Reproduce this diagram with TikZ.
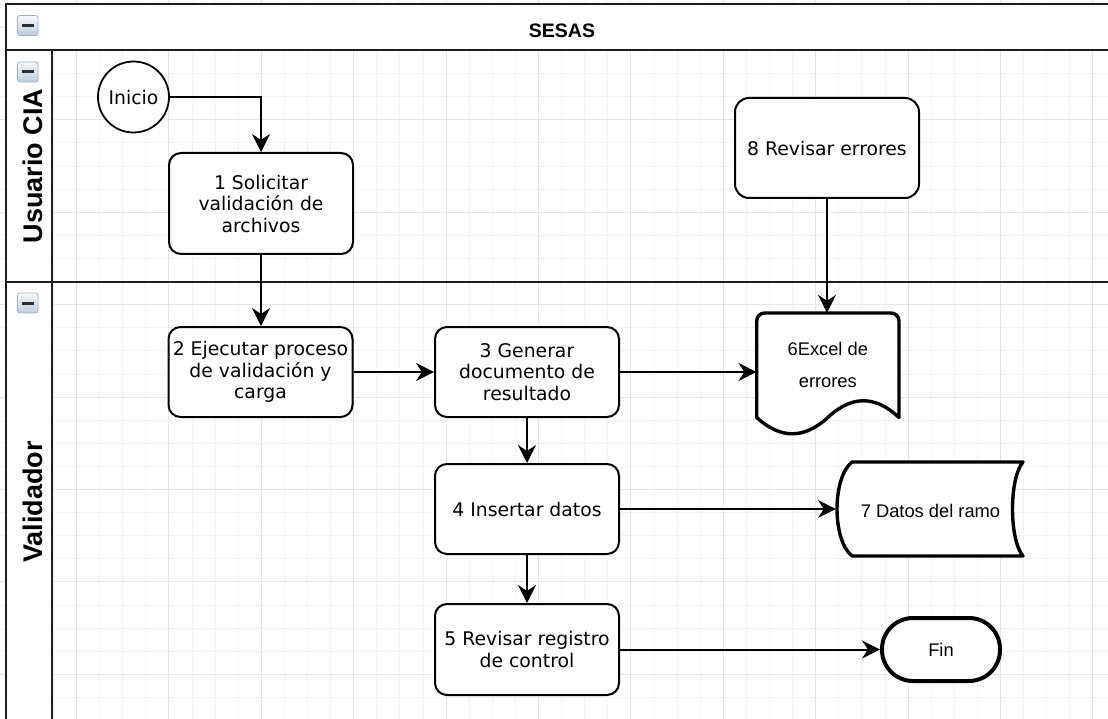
\documentclass[tikz,border=0pt]{standalone}
\usepackage{fontspec}
\setmainfont{DejaVu Sans}
\newfontfamily\helv{Liberation Sans}
\usetikzlibrary{arrows.meta}

\definecolor{gridminor}{HTML}{F2F2F2}
\definecolor{gridmajor}{HTML}{E5E5E5}
\definecolor{poolline}{HTML}{1E1E1E}
\definecolor{iconedge}{HTML}{9DB0C4}
\definecolor{icontop}{HTML}{F6F9FC}
\definecolor{iconbot}{HTML}{BCCCDD}
\definecolor{iconbar}{HTML}{2E2E2E}

\tikzset{
  proc/.style={draw, line width=2pt, rounded corners=12pt, fill=white,
    minimum width=184pt, minimum height=90pt, align=center, inner sep=2pt,
    font=\fontsize{18.8}{21.5}\selectfont},
  flow/.style={line width=2pt, -{Stealth[length=18pt,width=18pt,inset=6pt]}},
  lanelabel/.style={rotate=90, font=\helv\bfseries\fontsize{27}{30}\selectfont},
  poolstroke/.style={poolline, line width=2.5pt},
  storeline/.style={line width=3.4pt, line join=round, fill=white},
  helvtext/.style={font=\helv\fontsize{18.3}{21.5}\selectfont},
}

\begin{document}
\begin{tikzpicture}[x=1pt,y=-1pt]
\useasboundingbox (0,0) rectangle (1108,719);
\clip (0,0) rectangle (1108,719);
\fill[white] (0,0) rectangle (1108,719);

% background grid
\foreach \i in {0,...,47}
  \draw[gridminor, line width=1pt] ({7.2+23.1*\i},0) -- ({7.2+23.1*\i},719);
\foreach \j in {0,...,31}
  \draw[gridminor, line width=1pt] (0,{4.4+23.1*\j}) -- (1108,{4.4+23.1*\j});
\foreach \i in {0,...,11}
  \draw[gridmajor, line width=1pt] ({76.5+92.4*\i},0) -- ({76.5+92.4*\i},719);
\foreach \j in {0,...,7}
  \draw[gridmajor, line width=1pt] (0,{27.5+92.4*\j}) -- (1108,{27.5+92.4*\j});

% pool header and lane label columns
\fill[white] (6,4) rectangle (1108,50);
\fill[white] (6,50) rectangle (52,719);
\draw[poolstroke] (6,4) -- (1108,4);
\draw[poolstroke] (6,50) -- (1108,50);
\draw[poolstroke] (6,282) -- (1108,282);
\draw[poolstroke] (6,2.75) -- (6,719);
\draw[poolstroke] (52,50) -- (52,719);

% collapse buttons
\foreach \cy in {25.5,72,303} {
  \draw[iconedge, line width=0.8pt, rounded corners=2.5pt, top color=icontop, bottom color=iconbot]
    (17.5,\cy-10) rectangle (38,\cy+10);
  \draw[iconbar, line width=3pt] (21.7,\cy) -- (34.3,\cy);
}

% titles
\node[font=\helv\bfseries\fontsize{19.5}{22}\selectfont] (pool) at (562,31) {SESAS};
\node[lanelabel] (lane1) at (32.5,166) {Usuario CIA};
\node[lanelabel] (lane2) at (32.5,502) {Validador};

% process steps
\node[circle, draw, line width=1.8pt, fill=white, minimum size=71pt, inner sep=0pt,
  font=\fontsize{18.8}{21.5}\selectfont] (inicio) at (133.5,97) {Inicio};
\node[proc, minimum height=101pt] (b1) at (261,203.5) {1 Solicitar\\validación de\\archivos};
\node[proc] (b2) at (260.5,372) {2 Ejecutar proceso\\de validación y\\carga};
\node[proc] (b3) at (527,372) {3 Generar\\documento de\\resultado};
\node[proc] (b4) at (527,509) {4 Insertar datos};
\node[proc, minimum height=91pt] (b5) at (527,649.5) {5 Revisar registro\\de control};
\node[proc, minimum height=100pt, rounded corners=14pt] (b8) at (827,148) {8 Revisar errores};

% document: error spreadsheet
\draw[storeline] (756.7,417.5) [rounded corners=8pt] -- (756.7,313) -- (899,313) [sharp corners]
  -- (899,417.5) .. controls (875.3,395.2) and (851.5,395.2) .. (827.8,417.5)
  .. controls (804.1,439.2) and (780.4,439.2) .. (756.7,417.5) -- cycle;
\node[font=\helv\fontsize{18.3}{32}\selectfont, align=center, minimum width=142.3pt,
  minimum height=104.5pt, inner sep=0pt] (d6) at (827.8,365.25) {6Excel de\\errores};

% data storage
\draw[storeline] (852,462) -- (1023,462) .. controls (1009,478) and (1009,540) .. (1023,556)
  -- (852,556) .. controls (832,540) and (832,478) .. (852,462) -- cycle;
\node[helvtext, minimum width=189pt, minimum height=94pt, inner sep=0pt] (ds7) at (930.5,511) {7 Datos del ramo};

% end terminator
\node[draw, line width=4pt, rounded corners=31pt, fill=white, minimum width=118pt,
  minimum height=63pt, helvtext] (fin) at (941,649.5) {Fin};

% connectors
\draw[flow] (inicio.east) -| (b1.north);
\draw[flow] (b1.south) -- (b1.south |- b2.north);
\draw[flow] (b2.east) -- (b3.west);
\draw[flow] (b3.east) -- (b3.east -| d6.west);
\draw[flow] (b3.south) -- (b4.north);
\draw[flow] (b4.east) -- (b4.east -| ds7.west);
\draw[flow] (b4.south) -- (b5.north);
\draw[flow] (b5.east) -- (fin.west);
\draw[flow] (b8.south) -- (b8.south |- d6.north);
\end{tikzpicture}
\end{document}
